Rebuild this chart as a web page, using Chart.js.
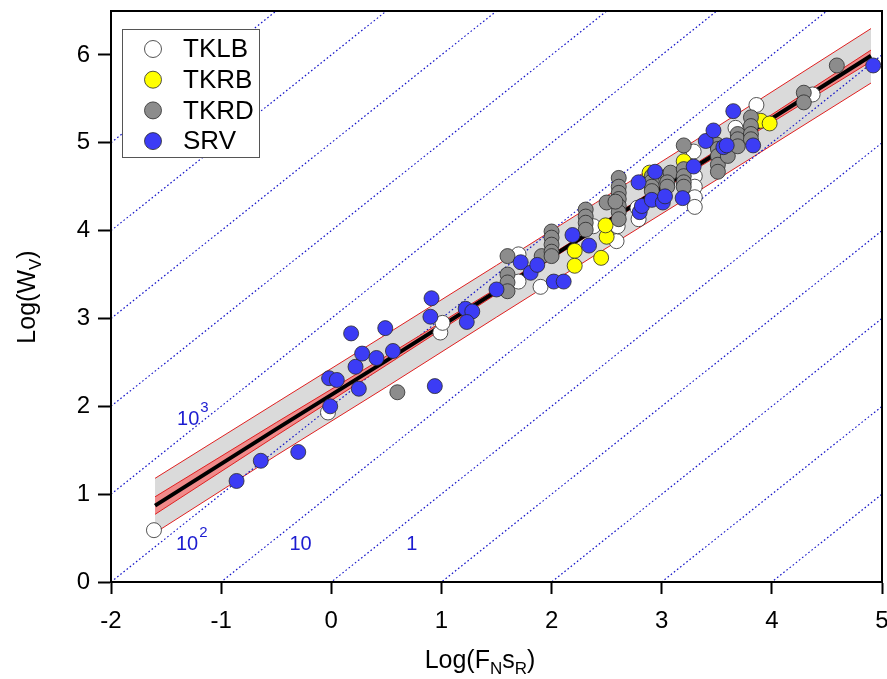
<!DOCTYPE html>
<html lang="en">
<head>
  <meta charset="UTF-8">
  <title>Log(Wv) vs Log(FNsR)</title>
  <script src="https://cdn.jsdelivr.net/npm/chart.js@4.4.3/dist/chart.umd.min.js"></script>
  <style>
    html, body { margin: 0; padding: 0; background: #fff; }
    #wrap { width: 887px; height: 679px; position: relative; }
  </style>
</head>
<body>
  <div id="wrap"><canvas id="chart" width="887" height="679"></canvas></div>

  <script>
    const FONT = "'Liberation Sans', Arial, sans-serif";

    // axis ticks
    const xTicks = [-2, -1, 0, 1, 2, 3, 4, 5];
    const yTicks = [0, 1, 2, 3, 4, 5, 6];

    // measured points [Log(FNsR), Log(Wv)]
    const tklbPts = [[-1.61,0.59],[-0.03,1.93],[0.99,2.84],[1.01,2.95],[1.70,3.73],[1.70,3.42],[1.90,3.36],
      [2.38,4.05],[2.59,3.88],[2.60,4.05],[2.78,4.26],[2.79,4.13],[3.29,4.90],[3.30,4.62],[3.30,4.50],
      [3.30,4.38],[3.30,4.27],[3.67,5.17],[3.86,5.43],[4.37,5.55]];
    const tkrbPts = [[2.21,3.77],[2.21,3.60],[2.45,3.69],[2.50,3.93],[2.49,4.06],[2.89,4.66],[3.20,4.79],
      [3.90,5.25],[3.98,5.22]];
    const tkrdPts = [[0.60,2.16],[1.60,3.71],[1.60,3.50],[1.60,3.41],[1.60,3.31],[1.91,3.71],
      [2.00,3.99],[2.00,3.92],[2.00,3.84],[2.00,3.76],[2.00,3.71],
      [2.31,4.24],[2.31,4.16],[2.31,4.09],[2.31,4.01],[2.50,4.32],
      [2.61,4.60],[2.61,4.50],[2.61,4.43],[2.61,4.36],[2.61,4.28],[2.61,4.21],[2.61,4.13],[2.58,4.33],
      [2.91,4.62],[2.91,4.56],[2.91,4.50],[2.91,4.45],[3.05,4.62],[3.08,4.66],[3.05,4.55],[3.05,4.50],
      [3.20,4.97],[3.20,4.70],[3.20,4.62],[3.20,4.55],[3.20,4.50],
      [3.50,4.98],[3.51,4.93],[3.51,4.85],[3.51,4.75],[3.51,4.67],[3.60,4.85],
      [3.69,5.10],[3.69,5.04],[3.69,4.96],[3.81,5.29],[3.81,5.19],[3.81,5.10],[3.81,5.04],
      [4.29,5.57],[4.29,5.46],[4.59,5.88]];
    const srvPts = [[-0.86,1.15],[-0.64,1.38],[-0.30,1.48],[-0.01,2.00],[-0.02,2.32],[0.05,2.30],[0.25,2.20],
      [0.18,2.83],[0.22,2.45],[0.28,2.60],[0.41,2.55],[0.49,2.89],[0.56,2.63],[0.91,3.23],[0.90,3.02],
      [0.94,2.23],[1.22,3.11],[1.28,3.08],[1.23,2.96],[1.50,3.33],[1.72,3.64],[1.81,3.52],[1.87,3.61],
      [2.02,3.42],[2.11,3.42],[2.19,3.95],[2.34,3.83],[2.79,4.55],[2.80,4.21],[2.82,4.28],[2.91,4.35],
      [2.94,4.67],[3.01,4.32],[3.03,4.39],[3.19,4.37],[3.29,4.73],[3.40,5.02],[3.47,5.14],[3.56,4.95],
      [3.59,4.97],[3.65,5.36],[3.83,4.97],[4.92,5.88]];

    // regression fit and bands, read along x
    const bandX     = [-1.6, -0.5, 0.5, 1.5, 2.4, 3.5, 4.9];
    const fitY      = [0.87, 1.74, 2.52, 3.31, 4.02, 4.88, 5.99];
    const confUpper = [0.97, 1.815, 2.572, 3.342, 4.042, 4.914, 6.055];
    const confLower = [0.77, 1.665, 2.468, 3.278, 3.998, 4.846, 5.925];
    const predUpper = [1.18, 2.04, 2.82, 3.605, 4.315, 5.18, 6.30];
    const predLower = [0.56, 1.44, 2.22, 3.015, 3.725, 4.58, 5.68];

    // 1:1 guide lines, Log(Wv) - Log(FNsR) offsets
    const guideOffsets = [-4, -3, -2, -1, 0, 1, 2, 3, 4, 5, 6, 7];
    const guideLabels = [
      { text: '10', sup: '3', x: -1.40, y: 1.79 },
      { text: '10', sup: '2', x: -1.41, y: 0.36 },
      { text: '10', sup: '',  x: -0.38, y: 0.36 },
      { text: '1',  sup: '',  x: 0.68,  y: 0.36 }
    ];

    const toXY = (xs, ys) => xs.map((x, i) => ({ x: x, y: ys[i] }));
    const pointSet = (label, pts, color, order) => ({
      label: label,
      data: pts.map(p => ({ x: p[0], y: p[1] })),
      backgroundColor: color,
      borderColor: '#2a2a2a',
      borderWidth: 0.8,
      pointRadius: 7.5,
      showLine: false,
      order: order
    });
    const lineSet = (data, color, width, order, extra) => Object.assign({
      data: data, showLine: true, pointRadius: 0, borderColor: color, borderWidth: width,
      fill: false, tension: 0, order: order
    }, extra || {});

    const datasets = [
      pointSet('TKLB', tklbPts, '#ffffff', 4),
      pointSet('TKRB', tkrbPts, '#ffff00', 3),
      pointSet('TKRD', tkrdPts, '#8c8c8c', 2),
      pointSet('SRV', srvPts, '#3c3cf5', 1),
      lineSet(toXY(bandX, fitY), '#000000', 4, 5),
      lineSet(toXY(bandX, confUpper), '#e02020', 1, 8, { fill: '+1', backgroundColor: '#f08a8a' }),
      lineSet(toXY(bandX, confLower), '#e02020', 1, 7),
      lineSet(toXY(bandX, predUpper), '#e02020', 1, 12, { fill: '+1', backgroundColor: '#dadada' }),
      lineSet(toXY(bandX, predLower), '#e02020', 1, 11)
    ];
    guideOffsets.forEach(c => {
      datasets.push(lineSet([{ x: -2, y: -2 + c }, { x: 5, y: 5 + c }], '#1414c8', 1.2, 10, { borderDash: [1.6, 2.4] }));
    });

    const noPad = s => {
      s.paddingLeft = 0; s.paddingRight = 0; s.paddingTop = 0; s.paddingBottom = 0;
    };

    const framePlugin = {
      id: 'frame',
      afterDatasetsDraw(chart) {
        const { ctx, scales } = chart;
        // guide line labels
        ctx.save();
        ctx.fillStyle = '#1c1cd0';
        ctx.textBaseline = 'alphabetic';
        guideLabels.forEach(l => {
          const px = scales.x.getPixelForValue(l.x);
          const py = scales.y.getPixelForValue(l.y);
          ctx.font = '20px ' + FONT;
          ctx.fillText(l.text, px, py);
          if (l.sup) {
            const w = ctx.measureText(l.text).width;
            ctx.font = '15px ' + FONT;
            ctx.fillText(l.sup, px + w + 1, py - 13);
          }
        });
        ctx.restore();
      },
      afterDraw(chart) {
        const { ctx, chartArea: a } = chart;
        ctx.save();
        ctx.strokeStyle = '#000';
        ctx.lineWidth = 2;
        ctx.strokeRect(a.left, a.top, a.right - a.left, a.bottom - a.top);

        // legend
        const bx = 122, by = 29, bw = 137, bh = 128;
        ctx.fillStyle = '#fff';
        ctx.fillRect(bx, by, bw, bh);
        ctx.strokeStyle = '#555';
        ctx.lineWidth = 1;
        ctx.strokeRect(bx + 0.5, by + 0.5, bw, bh);
        ctx.font = '26px ' + FONT;
        ctx.textBaseline = 'middle';
        for (let i = 0; i < 4; i++) {
          const ds = chart.data.datasets[i];
          const cy = by + 20 + i * 30.7;
          ctx.beginPath();
          ctx.arc(bx + 31, cy, 8.5, 0, Math.PI * 2);
          ctx.fillStyle = ds.backgroundColor;
          ctx.fill();
          ctx.strokeStyle = '#2a2a2a';
          ctx.lineWidth = 0.8;
          ctx.stroke();
          ctx.fillStyle = '#000';
          ctx.fillText(ds.label, bx + 61, cy + 1);
        }

        // axis titles with subscripts
        ctx.fillStyle = '#000';
        ctx.textBaseline = 'alphabetic';
        const parts = (x0, y0, list) => {
          let x = x0;
          list.forEach(p => {
            ctx.font = (p.sub ? '17px ' : '25px ') + FONT;
            ctx.fillText(p.t, x, y0 + (p.sub ? 6 : 0));
            x += ctx.measureText(p.t).width;
          });
        };
        const widthOf = list => list.reduce((s, p) => {
          ctx.font = (p.sub ? '17px ' : '25px ') + FONT;
          return s + ctx.measureText(p.t).width;
        }, 0);
        const xTitle = [{ t: 'Log(F' }, { t: 'N', sub: true }, { t: 's' }, { t: 'R', sub: true }, { t: ')' }];
        parts(480 - widthOf(xTitle) / 2, 668, xTitle);

        const yTitle = [{ t: 'Log(W' }, { t: 'V', sub: true }, { t: ')' }];
        ctx.translate(35, 297);
        ctx.rotate(-Math.PI / 2);
        parts(-widthOf(yTitle) / 2, 0, yTitle);
        ctx.restore();
      }
    };

    new Chart(document.getElementById('chart'), {
      type: 'scatter',
      data: { datasets: datasets },
      options: {
        responsive: false,
        animation: false,
        events: [],
        layout: { autoPadding: false, padding: { top: 11, right: 5, left: 0, bottom: 0 } },
        plugins: {
          legend: { display: false },
          tooltip: { enabled: false },
          title: { display: false }
        },
        scales: {
          x: {
            type: 'linear', min: -2, max: 5,
            afterBuildTicks: s => { s.ticks = xTicks.map(v => ({ value: v })); },
            afterFit: s => { s.height = 97; noPad(s); },
            ticks: { color: '#000', font: { family: FONT, size: 24 }, padding: 13, maxRotation: 0, autoSkip: false },
            grid: { drawOnChartArea: false, drawTicks: true, tickLength: 12, tickWidth: 2, tickColor: '#000' },
            border: { display: true, color: '#000', width: 2 }
          },
          y: {
            type: 'linear', min: 0, max: 6.5,
            afterBuildTicks: s => { s.ticks = yTicks.map(v => ({ value: v })); },
            afterFit: s => { s.width = 111; noPad(s); },
            ticks: { color: '#000', font: { family: FONT, size: 24 }, padding: 8, autoSkip: false },
            grid: { drawOnChartArea: false, drawTicks: true, tickLength: 13, tickWidth: 2, tickColor: '#000' },
            border: { display: true, color: '#000', width: 2 }
          }
        }
      },
      plugins: [framePlugin]
    });
  </script>
</body>
</html>
